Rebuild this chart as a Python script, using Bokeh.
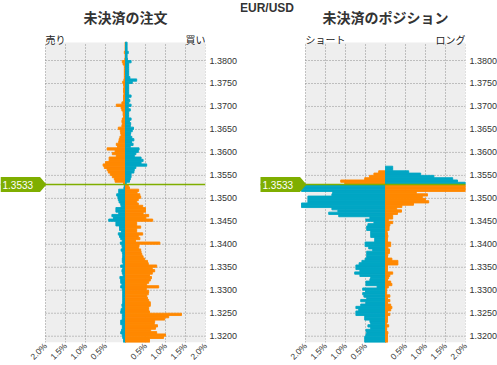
import numpy as np
from bokeh.plotting import figure
from bokeh.layouts import row
from bokeh.models import (Range1d, FixedTicker, PrintfTickFormatter, CustomJSTickFormatter,
                          Label, PolyAnnotation, BoxAnnotation, ColumnDataSource)
from bokeh.embed import file_html
from bokeh.resources import INLINE

# ---------------- data ----------------
pair = "EUR/USD"
current_price_label = "1.3533"
line_price = 1.3530
bucket = 0.0005
top_bucket_low = 1.3835      # lower bound of highest bucket (above the price line)
first_below_low = 1.3525     # lower bound of first bucket under the price line
y_start, y_end = 1.31863, 1.38392

orders_title = "未決済の注文"
orders_left_label = "売り"
orders_right_label = "買い"
positions_title = "未決済のポジション"
positions_left_label = "ショート"
positions_right_label = "ロング"

x_ticks = [-2.0, -1.5, -1.0, -0.5, 0.0, 0.5, 1.0, 1.5, 2.0]
y_ticks = [1.3200, 1.3250, 1.3300, 1.3350, 1.3400, 1.3450, 1.3500,
           1.3550, 1.3600, 1.3650, 1.3700, 1.3750, 1.3800]

# open orders (%), buckets above the price line, top -> bottom
orders_above_sell = [0.01, 0.01, 0.01, 0.01, 0.03, 0.01, 0.01, 0.02, 0.08, 0.06,
                     0.03, 0.03, 0.03, 0.03, 0.03, 0.03, 0.04, 0.07, 0.05, 0.04,
                     0.05, 0.05, 0.04, 0.05, 0.05, 0.05, 0.09, 0.23, 0.11, 0.09,
                     0.06, 0.06, 0.05, 0.08, 0.09, 0.08, 0.09, 0.18, 0.13, 0.12,
                     0.11, 0.14, 0.16, 0.17, 0.23, 0.20, 0.46, 0.26, 0.33, 0.23,
                     0.41, 0.41, 0.50, 0.56, 0.53, 0.46, 0.43, 0.38, 0.33, 0.28,
                     0.26, 0.05]
orders_above_buy = [0.04, 0.04, 0.04, 0.04, 0.07, 0.04, 0.04, 0.05, 0.14, 0.08,
                    0.08, 0.08, 0.08, 0.08, 0.08, 0.11, 0.28, 0.17, 0.08, 0.08,
                    0.08, 0.08, 0.08, 0.14, 0.08, 0.11, 0.08, 0.14, 0.07, 0.12,
                    0.08, 0.08, 0.08, 0.14, 0.10, 0.13, 0.12, 0.20, 0.17, 0.13,
                    0.12, 0.16, 0.21, 0.15, 0.19, 0.12, 0.34, 0.32, 0.26, 0.22,
                    0.39, 0.44, 0.39, 0.53, 0.26, 0.22, 0.21, 0.14, 0.14, 0.12,
                    0.10, 0.02]
# open orders (%), buckets below the price line, top -> bottom
orders_below_sell = [0.03, 0.04, 0.17, 0.17, 0.22, 0.19, 0.18, 0.16, 0.12, 0.11,
                     0.24, 0.24, 0.17, 0.34, 0.30, 0.42, 0.24, 0.24, 0.15, 0.15,
                     0.10, 0.18, 0.15, 0.12, 0.08, 0.13, 0.09, 0.08, 0.11, 0.08,
                     0.07, 0.07, 0.08, 0.08, 0.06, 0.12, 0.07, 0.09, 0.08, 0.06,
                     0.14, 0.12, 0.12, 0.09, 0.12, 0.08, 0.07, 0.07, 0.07, 0.07,
                     0.07, 0.07, 0.09, 0.08, 0.11, 0.12, 0.08, 0.08, 0.08, 0.12,
                     0.12, 0.08, 0.08, 0.10, 0.12, 0.08, 0.07, 0.05, 0.05]
orders_below_buy = [0.07, 0.10, 0.33, 0.29, 0.36, 0.38, 0.32, 0.28, 0.32, 0.43,
                    0.50, 0.50, 0.44, 0.58, 0.51, 0.68, 0.28, 0.28, 0.38, 0.28,
                    0.28, 0.43, 0.32, 0.36, 0.25, 0.86, 0.34, 0.33, 0.38, 0.39,
                    0.41, 0.44, 0.48, 0.55, 0.57, 0.78, 0.67, 0.73, 0.67, 0.60,
                    0.65, 0.62, 0.58, 0.53, 0.83, 0.52, 0.58, 0.57, 0.53, 0.55,
                    0.58, 0.62, 0.62, 0.58, 0.58, 0.60, 1.40, 1.08, 0.98, 0.73,
                    0.72, 0.80, 0.75, 0.63, 0.78, 1.00, 0.95, 0.60, 0.60]

# open positions (%), above the price line, top -> bottom
positions_above_short = [0.0, 0.0, 0.0, 0.0, 0.0, 0.0, 0.0, 0.0, 0.0, 0.0,
                         0.0, 0.0, 0.0, 0.0, 0.0, 0.0, 0.0, 0.0, 0.0, 0.0,
                         0.0, 0.0, 0.0, 0.0, 0.0, 0.0, 0.0, 0.0, 0.0, 0.0,
                         0.0, 0.0, 0.0, 0.0, 0.0, 0.0, 0.0, 0.0, 0.0, 0.0,
                         0.0, 0.0, 0.0, 0.0, 0.0, 0.0, 0.0, 0.0, 0.0, 0.0,
                         0.0, 0.0, 0.0, 0.0, 0.0, 0.0, 0.17, 0.29, 0.40, 0.52,
                         1.12, 1.02]
positions_above_long = [0.0, 0.0, 0.0, 0.0, 0.0, 0.0, 0.0, 0.0, 0.0, 0.0,
                        0.0, 0.0, 0.0, 0.0, 0.0, 0.0, 0.0, 0.0, 0.0, 0.0,
                        0.0, 0.0, 0.0, 0.0, 0.0, 0.0, 0.0, 0.0, 0.0, 0.0,
                        0.0, 0.0, 0.0, 0.0, 0.0, 0.0, 0.0, 0.0, 0.0, 0.0,
                        0.0, 0.0, 0.0, 0.0, 0.0, 0.0, 0.0, 0.0, 0.0, 0.0,
                        0.0, 0.0, 0.0, 0.0, 0.18, 0.18, 0.58, 0.88, 1.21, 1.68,
                        1.80, 2.10]
# open positions (%), below the price line, top -> bottom
positions_below_short = [2.10, 2.10, 2.10, 1.32, 1.34, 1.94, 1.94, 1.94, 2.10, 2.10,
                         1.34, 1.19, 1.42, 1.17, 0.39, 0.49, 0.29, 0.44, 0.47, 0.47,
                         0.37, 0.37, 0.37, 0.27, 0.27, 0.51, 0.51, 0.42, 0.32, 0.47,
                         0.47, 0.47, 0.51, 0.59, 0.66, 0.74, 0.74, 0.64, 0.77, 0.64,
                         0.37, 0.39, 0.49, 0.49, 0.21, 0.57, 0.50, 0.57, 0.54, 0.47,
                         0.62, 0.49, 0.62, 0.74, 0.67, 0.74, 0.74, 0.52, 0.52, 0.39,
                         0.37, 0.44, 0.37, 0.49, 0.47, 0.49, 0.52, 0.52, 0.52]
positions_below_long = [2.10, 2.10, 2.10, 0.77, 1.05, 0.92, 1.00, 1.08, 0.70, 0.41,
                        0.28, 0.40, 0.30, 0.18, 0.18, 0.07, 0.18, 0.11, 0.09, 0.09,
                        0.04, 0.05, 0.06, 0.05, 0.05, 0.13, 0.13, 0.06, 0.10, 0.10,
                        0.06, 0.05, 0.16, 0.31, 0.31, 0.05, 0.05, 0.05, 0.18, 0.11,
                        0.08, 0.05, 0.13, 0.16, 0.07, 0.03, 0.03, 0.03, 0.11, 0.05,
                        0.11, 0.05, 0.13, 0.16, 0.13, 0.05, 0.11, 0.05, 0.05, 0.05,
                        0.03, 0.08, 0.03, 0.03, 0.06, 0.05, 0.05, 0.05, 0.05]

# ---------------- style ----------------
ORANGE = "#ff8800"
TEAL = "#00a6c4"
GREEN = "#7fae00"
PANEL_BG = "#eeeeee"
GRID_COLOR = "#8f8f8f"
PANEL_W, PANEL_H = 160, 300
TOP_B, BOT_B = 42, 23
px_x = 4.0 / PANEL_W                      # data units per pixel (x)
px_y = (y_end - y_start) / PANEL_H        # data units per pixel (y)


def fx(px):
    """x data coordinate lying px pixels right of the panel's left edge"""
    return -2.0 + px * px_x


def fy(px):
    """y data coordinate lying px pixels above the panel's top edge"""
    return y_end + px * px_y


def make_panel(title, left_lbl, right_lbl, a_left, a_right, b_left, b_right,
               lead_px, border_r):
    p = figure(frame_width=lead_px + PANEL_W, frame_height=PANEL_H + TOP_B,
               x_range=Range1d(fx(-lead_px), 2.0), y_range=Range1d(y_start, fy(TOP_B)),
               y_axis_location="right", output_backend="svg", toolbar_location=None,
               title=None, min_border_left=0, min_border_right=border_r,
               min_border_top=0, min_border_bottom=BOT_B,
               background_fill_color="white", border_fill_color="white",
               outline_line_color=None)
    p.grid.visible = False

    # gray panel area
    p.add_layout(BoxAnnotation(left=-2.0, right=2.0, bottom=y_start, top=y_end,
                               fill_color=PANEL_BG, fill_alpha=1.0, line_color=None,
                               level="image"))
    # dotted grid at the tick positions
    p.segment(x0=x_ticks, x1=x_ticks, y0=[y_start] * len(x_ticks), y1=[y_end] * len(x_ticks),
              line_color=GRID_COLOR, line_dash="1 2", line_width=1, level="underlay")
    p.segment(x0=[-2.0] * len(y_ticks), x1=[2.0] * len(y_ticks), y0=y_ticks, y1=y_ticks,
              line_color=GRID_COLOR, line_dash="1 2", line_width=1, level="underlay")

    # bars
    above_low = top_bucket_low - bucket * np.arange(len(a_left))
    below_low = first_below_low - bucket * np.arange(len(b_left))
    ys = np.concatenate([above_low, below_low]) + bucket / 2
    lvals = np.concatenate([a_left, b_left])
    rvals = np.concatenate([a_right, b_right])
    lcol = np.array([ORANGE] * len(a_left) + [TEAL] * len(b_left))
    rcol = np.array([TEAL] * len(a_right) + [ORANGE] * len(b_right))
    ml, mr = lvals > 0, rvals > 0
    src_l = ColumnDataSource(dict(y=ys[ml], left=-lvals[ml], right=np.zeros(ml.sum()),
                                  c=list(lcol[ml])))
    src_r = ColumnDataSource(dict(y=ys[mr], left=np.zeros(mr.sum()), right=rvals[mr],
                                  c=list(rcol[mr])))
    for s in (src_l, src_r):
        p.hbar(y="y", left="left", right="right", height=bucket, source=s,
               fill_color="c", line_color="c", line_width=0.9)

    # axes
    p.xaxis.ticker = FixedTicker(ticks=x_ticks)
    p.xaxis.formatter = CustomJSTickFormatter(
        code="return Math.abs(tick) < 1e-9 ? '' : Math.abs(tick).toFixed(1) + '%';")
    p.xaxis.major_label_orientation = np.pi / 4
    p.xaxis.major_label_text_font_size = "8.5px"
    p.xaxis.major_label_standoff = 2
    p.yaxis.ticker = FixedTicker(ticks=y_ticks)
    p.yaxis.formatter = PrintfTickFormatter(format="%.4f")
    p.yaxis.major_label_text_font_size = "9px"
    p.yaxis.major_label_standoff = 4
    for ax in (p.xaxis, p.yaxis):
        ax.axis_line_color = None
        ax.major_tick_line_color = None
        ax.minor_tick_line_color = None
        ax.major_tick_out = 0
        ax.major_tick_in = 0
        ax.major_label_text_font = "Liberation Sans"
        ax.major_label_text_color = "#333333"

    # current price line + tag
    p.segment(x0=[fx(-45.0)], x1=[2.0], y0=[line_price], y1=[line_price],
              line_color=GREEN, line_width=1.5)
    h = 7.5 * px_y
    p.add_layout(PolyAnnotation(
        xs=[fx(-45.0), fx(-5.5), fx(1.0), fx(-5.5), fx(-45.0)],
        ys=[line_price + h, line_price + h, line_price, line_price - h, line_price - h],
        fill_color=GREEN, fill_alpha=1.0, line_color=None, level="overlay"))
    p.add_layout(Label(x=fx(-43.0), y=line_price, text=current_price_label,
                       text_color="white", text_font_size="10px",
                       text_font="Liberation Sans", text_baseline="middle",
                       text_align="left", level="overlay"))

    # titles
    p.add_layout(Label(x=0.0, y=fy(26), text=title, text_align="center",
                       text_baseline="middle", text_font="Noto Sans CJK JP",
                       text_font_size="14px", text_font_style="bold",
                       text_color="#333333"))
    p.add_layout(Label(x=-2.0, y=fy(3), text=left_lbl, text_align="left",
                       text_baseline="alphabetic", text_font="Noto Sans CJK JP",
                       text_font_size="10px", text_color="#222222"))
    p.add_layout(Label(x=2.0, y=fy(3), text=right_lbl, text_align="right",
                       text_baseline="alphabetic", text_font="Noto Sans CJK JP",
                       text_font_size="10px", text_color="#222222"))
    return p


p1 = make_panel(orders_title, orders_left_label, orders_right_label,
                orders_above_sell, orders_above_buy, orders_below_sell, orders_below_buy,
                45, 35)
p2 = make_panel(positions_title, positions_left_label, positions_right_label,
                positions_above_short, positions_above_long,
                positions_below_short, positions_below_long,
                65, 32)

p2.add_layout(Label(x=fx(-38.5), y=fy(42), text=pair, text_align="center",
                    text_baseline="top", text_font="Liberation Sans",
                    text_font_size="12px", text_font_style="bold", text_color="#333333"))

layout = row(p1, p2)
open("out.html", "w").write(file_html(layout, INLINE))
